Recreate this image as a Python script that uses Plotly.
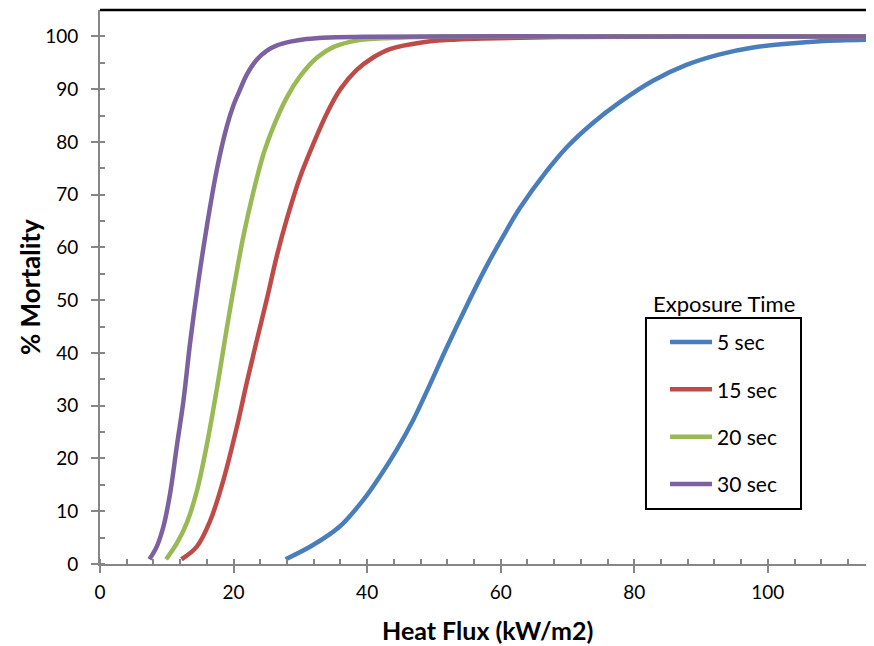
import plotly.graph_objects as go

# ---- data ----
series_names = ["5 sec", "15 sec", "20 sec", "30 sec"]
series_colors = ["#4A7EBB", "#BE4B48", "#98B954", "#7D60A0"]

x_5s = [27.8, 31.9, 35.9, 39.4, 41.9, 44.4, 46.9, 49.4, 51.9, 55.0, 57.9, 60.9, 62.9,
        66.9, 69.9, 73.8, 77.8, 82.8, 87.8, 92.8, 97.8, 102.8, 107.8, 115.9]
y_5s = [0.9, 3.6, 7.1, 12.1, 16.6, 21.6, 27.3, 34.0, 41.0, 49.2, 56.5, 63.3, 67.5,
        74.5, 79.0, 83.6, 87.5, 91.6, 94.6, 96.6, 97.9, 98.6, 99.1, 99.4]

x_15s = [12.2, 14.5, 16.5, 18.5, 20.5, 22.0, 23.5, 25.0, 26.5, 28.0, 30.0, 32.0, 34.0,
         36.0, 38.4, 40.9, 43.4, 48.4, 53.4, 57.4, 70.0, 90.0, 115.9]
y_15s = [0.9, 3.3, 8.2, 16.0, 26.0, 34.5, 42.5, 50.3, 58.5, 65.5, 73.5, 79.8, 85.5,
         90.0, 93.6, 96.0, 97.6, 98.9, 99.4, 99.6, 99.9, 100.0, 100.0]

x_20s = [9.9, 11.5, 13.0, 14.5, 16.0, 17.5, 19.0, 20.2, 21.5, 23.0, 24.5, 26.0, 28.0,
         30.0, 32.5, 35.0, 38.4, 43.4, 50.0, 70.0, 90.0, 115.9]
y_20s = [0.9, 3.9, 7.8, 13.8, 22.6, 33.2, 44.8, 53.5, 62.3, 70.7, 77.8, 83.0, 88.5,
         92.5, 96.0, 98.0, 99.2, 99.7, 99.95, 100.0, 100.0, 100.0]

x_30s = [7.4, 8.5, 9.5, 10.5, 11.5, 12.5, 13.5, 14.7, 16.0, 17.5, 19.0, 20.0, 21.0,
         22.0, 23.5, 25.0, 26.5, 28.5, 30.9, 34.4, 40.0, 50.0, 70.0, 90.0, 115.9]
y_30s = [0.9, 3.3, 7.1, 13.4, 22.3, 31.0, 42.0, 53.3, 64.0, 74.8, 83.0, 87.0, 90.0,
         92.8, 95.6, 97.3, 98.3, 99.0, 99.5, 99.8, 99.95, 100.0, 100.0, 100.0, 100.0]

x_ticks = [0, 20, 40, 60, 80, 100]
y_ticks = [0, 10, 20, 30, 40, 50, 60, 70, 80, 90, 100]

xs = [x_5s, x_15s, x_20s, x_30s]
ys = [y_5s, y_15s, y_20s, y_30s]

FONT = "Lato, Carlito, Calibri, sans-serif"
AXIS_GRAY = "#868686"

fig = go.Figure()
for name, color, x, y in zip(series_names, series_colors, xs, ys):
    fig.add_trace(go.Scatter(
        x=x, y=y, name=name, mode="lines",
        line=dict(color=color, width=4.5, shape="spline", smoothing=1.0),
        legendgroup=name,
    ))

# the page body adds an 8px offset, so the figure is sized 866x638
fig.update_layout(
    width=866, height=638,
    margin=dict(l=92, r=0, t=2, b=82),
    paper_bgcolor="white", plot_bgcolor="white",
    font=dict(family=FONT, color="black"),
    showlegend=True,
    legend=dict(
        x=0.730, y=0.437, xanchor="left", yanchor="top",
        bgcolor="rgba(0,0,0,0)", borderwidth=0,
        font=dict(family=FONT, size=21, color="black"),
        traceorder="grouped", tracegroupgap=17,
        itemwidth=42,
    ),
    xaxis=dict(
        range=[0, 115.9], tickmode="array", tickvals=x_ticks, automargin=False,
        showline=True, linecolor=AXIS_GRAY, linewidth=2,
        ticks="outside", ticklen=7, tickwidth=1.5, tickcolor=AXIS_GRAY,
        minor=dict(ticks="inside", dtick=4, tick0=0, ticklen=5, tickwidth=1.5, tickcolor=AXIS_GRAY),
        showgrid=False, zeroline=False,
        tickfont=dict(family=FONT, size=19, color="black"),
        ticklabelstandoff=3,
    ),
    yaxis=dict(
        range=[0, 105], tickmode="array", tickvals=y_ticks, automargin=False,
        showline=True, linecolor=AXIS_GRAY, linewidth=2,
        ticks="outside", ticklen=7, tickwidth=1.5, tickcolor=AXIS_GRAY,
        minor=dict(ticks="inside", dtick=5, tick0=0, ticklen=5, tickwidth=1.5, tickcolor=AXIS_GRAY),
        showgrid=False, zeroline=False,
        tickfont=dict(family=FONT, size=19, color="black"),
        ticklabelstandoff=9,
    ),
    xaxis2=dict(
        range=[0, 115.9], overlaying="x", anchor="y", side="bottom", automargin=False,
        tickmode="array", tickvals=x_ticks, showticklabels=False,
        ticks="inside", ticklen=7, tickwidth=1.5, tickcolor=AXIS_GRAY,
        showline=False, showgrid=False, zeroline=False,
    ),
    yaxis2=dict(
        range=[0, 105], overlaying="y", anchor="x", side="left", automargin=False,
        tickmode="array", tickvals=y_ticks, showticklabels=False,
        ticks="inside", ticklen=7, tickwidth=1.5, tickcolor=AXIS_GRAY,
        showline=False, showgrid=False, zeroline=False,
    ),
)

# axis titles
fig.add_annotation(text="<b>Heat Flux (kW/m2)</b>", xref="paper", yref="paper",
                   x=0.5, y=-0.1192, xanchor="center", yanchor="middle", showarrow=False,
                   font=dict(family=FONT, size=25, color="black"))
fig.add_annotation(text="<b>% Mortality</b>", xref="paper", yref="paper",
                   x=-0.0904, y=0.5, xanchor="center", yanchor="middle", showarrow=False,
                   textangle=-90, font=dict(family=FONT, size=26, color="black"))

# top border of the plot area
fig.add_shape(type="line", xref="paper", yref="paper", x0=0, x1=1, y0=1, y1=1,
              line=dict(color="black", width=2.5))

# legend frame and title
fig.add_shape(type="rect", xref="paper", yref="paper",
              x0=0.7054, x1=0.9057, y0=0.0993, y1=0.444,
              line=dict(color="black", width=2), fillcolor="rgba(0,0,0,0)")
fig.add_annotation(text="Exposure Time", xref="paper", yref="paper",
                   x=0.806, y=0.471, xanchor="center", yanchor="middle",
                   showarrow=False, font=dict(family=FONT, size=22, color="black"))

fig.write_html("out.html")
